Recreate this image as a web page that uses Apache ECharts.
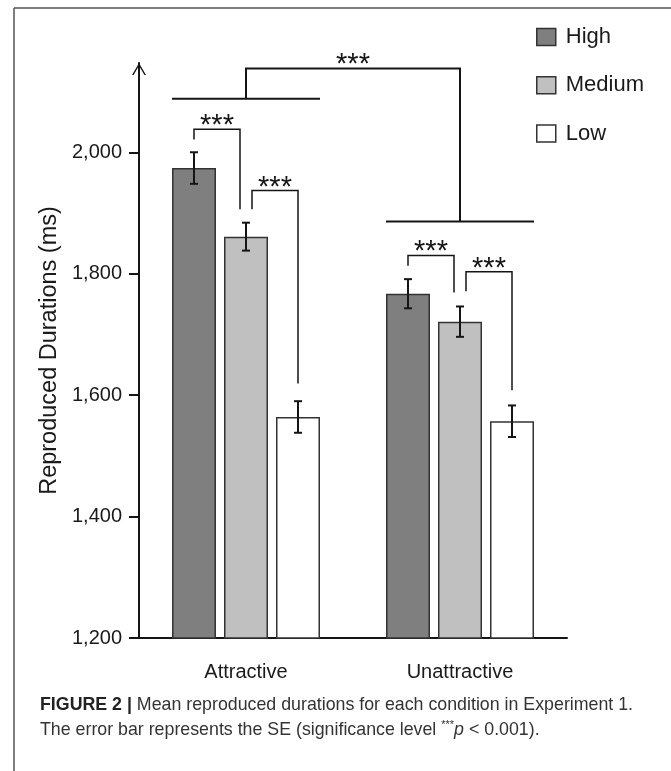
<!DOCTYPE html>
<html><head><meta charset="utf-8">
<script src="https://cdn.jsdelivr.net/npm/echarts@6/dist/echarts.min.js"></script>
<style>html,body{margin:0;padding:0;background:#fff}#c{width:671px;height:771px}</style>
</head><body><div id="c"></div>
<script>
// ---------- data ----------
const categories = ['Attractive', 'Unattractive'];
const seriesNames = ['High', 'Medium', 'Low'];
const highMeans = [1974, 1767];
const mediumMeans = [1861, 1721];
const lowMeans = [1564, 1557];
const highSE = [26, 24];
const mediumSE = [23, 25];
const lowSE = [26, 26];
const yTicks = [1200, 1400, 1600, 1800, 2000];
// within-group brackets: [category, leftBar, rightBar, leftLegEnd, top, rightLegEnd]
const pairBrackets = [
  [0, 0, 1, 2021, 2038, 1906],
  [0, 1, 2, 1906, 1937, 1619],
  [1, 0, 1, 1813, 1830, 1769],
  [1, 1, 2, 1771, 1803, 1608]
];
// between-group bracket: [group line Attractive, group line Unattractive, top]
const groupBracket = [2088, 1886, 2138];
const sigLabel = '***';

// ---------- style ----------
const BAR_W = 44, BAR_GAP = 8, STEP = BAR_W + BAR_GAP;
const FONT = '"Liberation Sans",Arial,sans-serif';
const INK = '#151515';
const barColors = ['#7f7f7f', '#c0c0c0', '#ffffff'];
const fmt = v => String(v).replace(/\B(?=(\d{3})+(?!\d))/g, ',');

const means = [highMeans, mediumMeans, lowMeans];
const ses = [highSE, mediumSE, lowSE];

function errorSeries(k) {
  return {
    type: 'custom', name: seriesNames[k] + ' SE', clip: false, z: 5,
    encode: { x: 0, y: 1 },
    data: categories.map((c, i) => [i, means[k][i], ses[k][i]]),
    renderItem: (params, api) => {
      const c = api.value(0), m = api.value(1), s = api.value(2);
      const x = api.coord([c, m])[0] + (k - 1) * STEP;
      const yT = api.coord([c, m + s])[1], yB = api.coord([c, m - s])[1];
      const st = { stroke: INK, lineWidth: 2 };
      return { type: 'group', children: [
        { type: 'line', shape: { x1: x, y1: yT, x2: x, y2: yB }, style: st },
        { type: 'line', shape: { x1: x - 4, y1: yT, x2: x + 4, y2: yT }, style: st },
        { type: 'line', shape: { x1: x - 4, y1: yB, x2: x + 4, y2: yB }, style: st }
      ]};
    }
  };
}

const starStyle = { fill: INK, fontSize: 29, fontFamily: FONT, align: 'center', verticalAlign: 'middle' };

const pairSeries = {
  type: 'custom', name: 'pairs', clip: false, z: 6,
  encode: { x: 0, y: 4 },
  data: pairBrackets,
  renderItem: (params, api) => {
    const c = api.value(0), a = api.value(1), b = api.value(2);
    const vL = api.value(3), vT = api.value(4), vR = api.value(5);
    const cx = api.coord([c, vT])[0];
    const legX = (bar, side) => cx + (bar - 1) * STEP + (bar === 1 ? side * 6 : 0);
    const xL = legX(a, 1), xR = legX(b, -1);
    const yL = api.coord([c, vL])[1], yT = api.coord([c, vT])[1], yR = api.coord([c, vR])[1];
    return { type: 'group', children: [
      { type: 'polyline', shape: { points: [[xL, yL], [xL, yT], [xR, yT], [xR, yR]] },
        style: { stroke: INK, lineWidth: 1.5, fill: null } },
      { type: 'text', x: (xL + xR) / 2, y: yT - 3, style: Object.assign({ text: sigLabel }, starStyle) }
    ]};
  }
};

const groupSeries = {
  type: 'custom', name: 'groups', clip: false, z: 6,
  encode: { x: 0, y: 1 },
  data: [[0].concat(groupBracket)],
  renderItem: (params, api) => {
    const vA = api.value(1), vU = api.value(2), vT = api.value(3);
    const xA = api.coord([0, vA])[0], xU = api.coord([1, vU])[0];
    const yA = api.coord([0, vA])[1], yU = api.coord([1, vU])[1], yT = api.coord([0, vT])[1];
    const half = STEP + BAR_W / 2;
    const st = { stroke: INK, lineWidth: 2, fill: null };
    return { type: 'group', children: [
      { type: 'line', shape: { x1: xA - half, y1: yA, x2: xA + half, y2: yA }, style: st },
      { type: 'line', shape: { x1: xU - half, y1: yU, x2: xU + half, y2: yU }, style: st },
      { type: 'polyline', shape: { points: [[xA, yA], [xA, yT], [xU, yT], [xU, yU]] }, style: st },
      { type: 'text', x: (xA + xU) / 2, y: yT - 3, style: Object.assign({ text: sigLabel }, starStyle) }
    ]};
  }
};

const barSeries = seriesNames.map((n, k) => ({
  type: 'bar', name: n, data: means[k], barWidth: BAR_W, barGap: (BAR_GAP / BAR_W * 100) + '%',
  itemStyle: { color: barColors[k], borderColor: '#333', borderWidth: 1.5 },
  emphasis: { disabled: true }, z: 3
}));

const chart = echarts.init(document.getElementById('c'), null, { renderer: 'canvas' });
chart.setOption({
  backgroundColor: '#fff',
  animation: false,
  grid: { left: 139, right: 104, top: 63, bottom: 133, containLabel: false },
  legend: {
    data: seriesNames, orient: 'vertical', left: 536, top: 25, padding: 0,
    itemWidth: 19, itemHeight: 17, itemGap: 24.3, icon: 'rect',
    itemStyle: { borderColor: '#333', borderWidth: 1.5 },
    textStyle: { fontSize: 22, lineHeight: 24, fontFamily: FONT, color: '#1a1a1a', padding: [0, 0, 0, 5] },
    selectedMode: false
  },
  xAxis: {
    type: 'category', data: categories,
    axisLine: { lineStyle: { color: INK, width: 2 } },
    axisTick: { show: false },
    axisLabel: { fontSize: 20, fontFamily: FONT, color: '#1a1a1a', margin: 24 }
  },
  yAxis: {
    type: 'value', min: 1200, max: 2147,
    axisLine: { show: true, symbol: ['none', 'path://M0,12L7,0L14,12L12.4,12L7,2.8L1.6,12Z'],
      symbolSize: [14, 12], symbolOffset: [0, -6], lineStyle: { color: INK, width: 2 } },
    axisTick: { show: true, length: 10, lineStyle: { color: INK, width: 2 }, customValues: yTicks },
    axisLabel: { customValues: yTicks, formatter: fmt, fontSize: 20, fontFamily: FONT, color: '#1a1a1a', margin: 17 },
    splitLine: { show: false },
    name: 'Reproduced Durations (ms)', nameLocation: 'middle', nameGap: 60,
    nameTextStyle: { fontSize: 23.5, fontFamily: FONT, color: '#1a1a1a' }
  },
  series: barSeries.concat([errorSeries(0), errorSeries(1), errorSeries(2), pairSeries, groupSeries]),
  graphic: [
    { type: 'line', shape: { x1: 14, y1: 8, x2: 671, y2: 8 }, style: { stroke: '#555', lineWidth: 1.5 } },
    { type: 'line', shape: { x1: 14, y1: 8, x2: 14, y2: 771 }, style: { stroke: '#555', lineWidth: 1.5 } },
    { type: 'text', x: 40, y: 705, style: {
        text: '{b|FIGURE 2 |} Mean reproduced durations for each condition in Experiment 1.',
        fontSize: 17.8, fontFamily: FONT, fill: '#333', verticalAlign: 'middle',
        rich: { b: { fontWeight: 'bold', fontSize: 17.8, fontFamily: FONT, fill: '#222' } } } },
    { type: 'text', x: 40, y: 730, style: {
        text: 'The error bar represents the SE (significance level {s|***}{i|p} < 0.001).',
        fontSize: 17.8, fontFamily: FONT, fill: '#333', verticalAlign: 'middle', lineHeight: 22,
        rich: { s: { fontSize: 11, fontFamily: FONT, fill: '#333', verticalAlign: 'top', lineHeight: 22 },
                i: { fontStyle: 'italic', fontSize: 17.8, fontFamily: FONT, fill: '#333', lineHeight: 22 } } } }
  ]
});
</script></body></html>
